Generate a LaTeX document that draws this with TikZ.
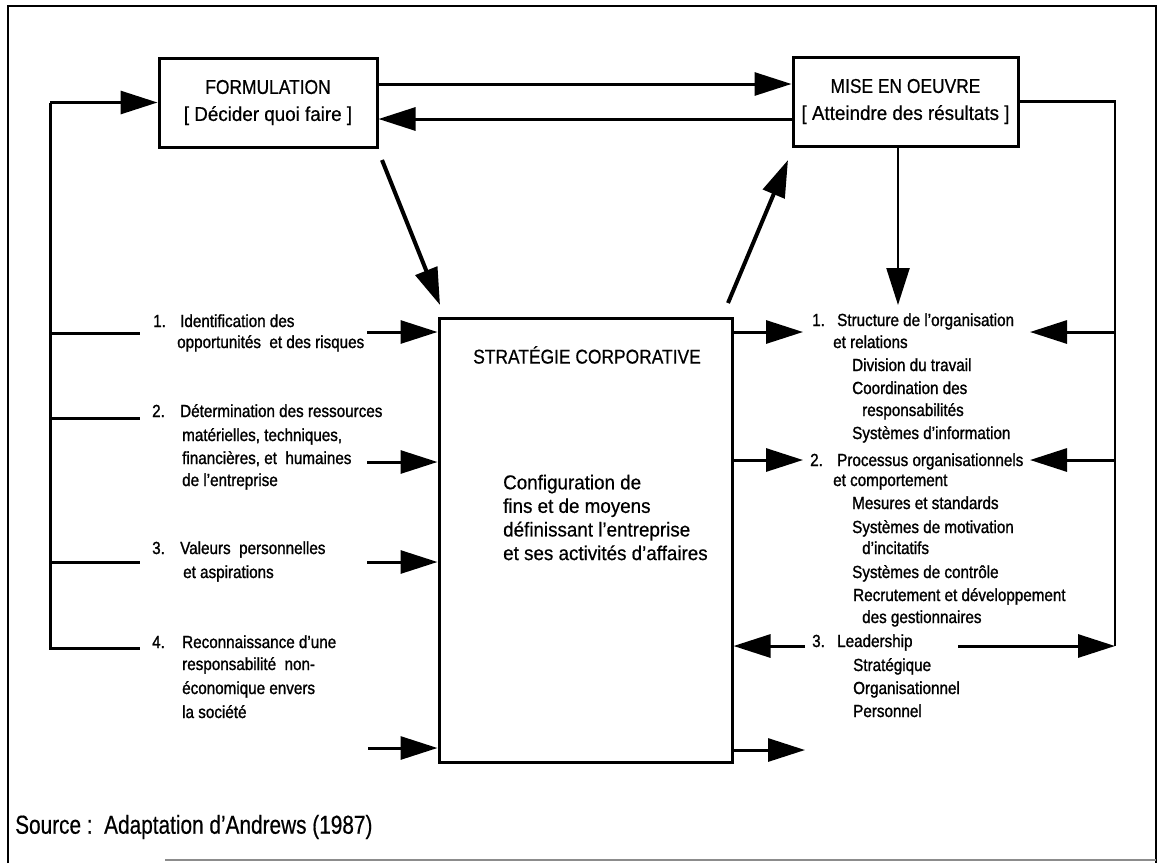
\documentclass[tikz,border=0pt]{standalone}
\usepackage{fontspec}
\setmainfont{Liberation Sans}
\newfontfamily\itemfont[FakeStretch=0.87, FakeBold=1.2]{Liberation Sans}
\newfontfamily\capsfont[FakeStretch=0.87, FakeBold=0.6]{Liberation Sans}
\newfontfamily\bodyfont[FakeStretch=0.94, FakeBold=0.6]{Liberation Sans}
\newfontfamily\srcfont[FakeStretch=0.8, FakeBold=0.5]{Liberation Sans}
\usetikzlibrary{arrows.meta}

\tikzset{
  frame/.style={line width=2pt},
  conn/.style={line width=3pt},
  slimconn/.style={line width=2.3pt},
  diag/.style={line width=4pt},
  arr/.style={-{Triangle[length=37pt,width=23pt]}},
  box/.style={draw, line width=3pt, inner sep=0pt, align=center},
  boxcaps/.style={font=\fontsize{20}{27}\capsfont},
  txt/.style={anchor=base west, inner sep=0pt, font=\fontsize{17.5}{23}\itemfont},
}

\begin{document}
\begin{tikzpicture}[x=1pt, y=-1pt]
\useasboundingbox (0,0) rectangle (1159,863);

% page frame
\draw[frame] (8,863) -- (8,6) -- (1156,6) -- (1156,863);
\draw[line width=1.2pt, black!45] (165,860) -- (1156,860);

% main boxes
\node[box, minimum width=218pt, minimum height=89pt, font=\fontsize{20}{27}\bodyfont]
  (form) at (268,102.5) {{\capsfont FORMULATION}\\{[} Décider quoi faire {]}};
\node[box, minimum width=225pt, minimum height=89pt, font=\fontsize{20}{27}\bodyfont]
  (mise) at (905.5,101.5) {{\capsfont MISE EN OEUVRE}\\{[} Atteindre des résultats {]}};
\node[box, minimum width=293pt, minimum height=444pt] (strat) at (585.5,540) {};

% texts of the central box
\node[boxcaps, inner sep=0pt] (strattitle) at (587,355) {STRATÉGIE CORPORATIVE};
\node[anchor=west, inner sep=0pt, align=left, font=\fontsize{20}{23.6}\bodyfont]
  (stratbody) at (503,517.5) {Configuration de\\fins et de moyens\\définissant l’entreprise\\et ses activités d’affaires};

% left column
\node[txt] (n1)  at (153,327) {1.};
\node[txt] (t1a) at (180,327) {Identification des};
\node[txt] (t1b) at (177,348) {opportunités\ \ et des risques};
\node[txt] (n2)  at (152,417) {2.};
\node[txt] (t2a) at (180,417) {Détermination des ressources};
\node[txt] (t2b) at (182,441) {matérielles, techniques,};
\node[txt] (t2c) at (182,464) {financières, et\ \ humaines};
\node[txt] (t2d) at (182,486) {de l’entreprise};
\node[txt] (n3)  at (152,554) {3.};
\node[txt] (t3a) at (180,554) {Valeurs\ \ personnelles};
\node[txt] (t3b) at (183,578) {et aspirations};
\node[txt] (n4)  at (152,648) {4.};
\node[txt] (t4a) at (182,648) {Reconnaissance d’une};
\node[txt] (t4b) at (182,670) {responsabilité\ \ non-};
\node[txt] (t4c) at (182,694) {économique envers};
\node[txt] (t4d) at (182,718) {la société};

% right column
\node[txt] (rn1) at (812,326) {1.};
\node[txt] (r1a) at (837,326) {Structure de l’organisation};
\node[txt] (r1b) at (833,348) {et relations};
\node[txt] (r1c) at (852,371) {Division du travail};
\node[txt] (r1d) at (852,394) {Coordination des};
\node[txt] (r1e) at (862,416) {responsabilités};
\node[txt] (r1f) at (852,439) {Systèmes d’information};
\node[txt] (rn2) at (810,466) {2.};
\node[txt] (r2a) at (837,466) {Processus organisationnels};
\node[txt] (r2b) at (833,486) {et comportement};
\node[txt] (r2c) at (852,509) {Mesures et standards};
\node[txt] (r2d) at (852,533) {Systèmes de motivation};
\node[txt] (r2e) at (862,554) {d’incitatifs};
\node[txt] (r2f) at (852,578) {Systèmes de contrôle};
\node[txt] (r2g) at (853,601) {Recrutement et développement};
\node[txt] (r2h) at (862,623) {des gestionnaires};
\node[txt] (rn3) at (812,647) {3.};
\node[txt] (r3a) at (837,647) {Leadership};
\node[txt] (r3b) at (853,671) {Stratégique};
\node[txt] (r3c) at (853,694) {Organisationnel};
\node[txt] (r3d) at (853,717) {Personnel};

% source line
\node[anchor=west, inner sep=0pt, font=\fontsize{26}{30}\srcfont] (src) at (15,827)
  {Source :\ \ Adaptation d’Andrews (1987)};

% junction and free-end coordinates
\coordinate (lt) at (50,102.5);
\coordinate (lb) at (50,648);
\coordinate (b1) at (140,333);
\coordinate (b2) at (140,418);
\coordinate (b3) at (140,562);
\coordinate (s1) at (367,332);
\coordinate (s2) at (367,462);
\coordinate (s3) at (367,562);
\coordinate (s4) at (368,748);
\coordinate (o1) at (803,332);
\coordinate (o2) at (803,460);
\coordinate (o3) at (805,750);
\coordinate (lf) at (805,646);
\coordinate (rv) at (1115,646);
\coordinate (q1) at (1030,332);
\coordinate (q2) at (1030,460);
\coordinate (lr) at (958,646);
\coordinate (hf) at (0,84);
\coordinate (hb) at (0,119);
\coordinate (md) at (898,305);
\coordinate (d1s) at (382,160);
\coordinate (d1e) at (440,305);
\coordinate (d2s) at (728,303);
\coordinate (d2e) at (788,160);

% formulation <-> mise en oeuvre
\draw[conn, arr] (form.east |- hf) -- (mise.west |- hf);
\draw[conn, arr] (mise.west |- hb) -- (form.east |- hb);

% left feedback loop
\draw[conn, arr] (lt) -- (lt -| form.west);
\draw[conn] (lt) -- (lb) -- (lb -| b1);
\draw[conn] (b1 -| lt) -- (b1);
\draw[conn] (b2 -| lt) -- (b2);
\draw[conn] (b3 -| lt) -- (b3);

% inputs to the strategy
\draw[conn, arr] (s1) -- (s1 -| strat.west);
\draw[conn, arr] (s2) -- (s2 -| strat.west);
\draw[conn, arr] (s3) -- (s3 -| strat.west);
\draw[conn, arr] (s4) -- (s4 -| strat.west);

% outputs of the strategy
\draw[conn, arr] (o1 -| strat.east) -- (o1);
\draw[conn, arr] (o2 -| strat.east) -- (o2);
\draw[conn, arr] (o3 -| strat.east) -- (o3);
\draw[conn, arr] (lf) -- (lf -| strat.east);

% diagonal links
\draw[diag, arr] (d1s) -- (d1e);
\draw[diag, arr] (d2s) -- (d2e);

% right loop from mise en oeuvre
\draw[slimconn, arr] (md |- mise.south) -- (md);
\draw[slimconn] (mise.east) -| (rv);
\draw[conn, arr] (q1 -| rv) -- (q1);
\draw[conn, arr] (q2 -| rv) -- (q2);
\draw[conn, arr] (lr) -- (rv);
\end{tikzpicture}
\end{document}
